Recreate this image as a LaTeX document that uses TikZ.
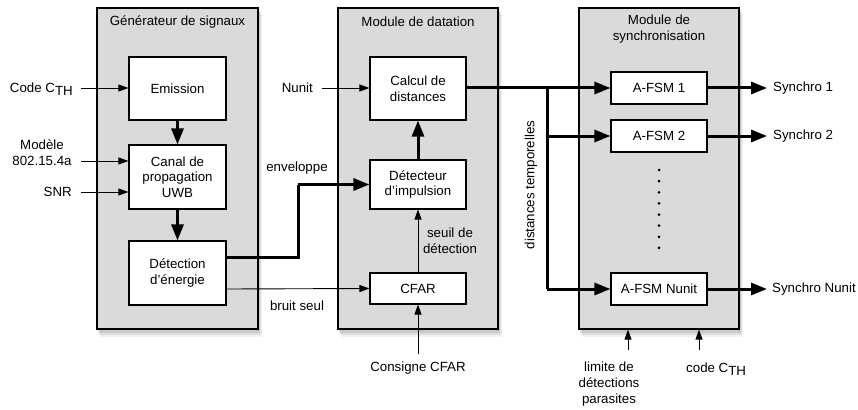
\documentclass[tikz,border=0pt]{standalone}
\usepackage{fontspec}
\setmainfont{Liberation Sans}
\usetikzlibrary{arrows.meta}
\definecolor{modfill}{RGB}{218,218,218}
\newcommand\subTH{\raisebox{-0.45ex}{TH}}
\begin{document}
\begin{tikzpicture}[x=1pt,y=-1pt,
 font=\fontsize{13.3}{15.7}\selectfont,
 module/.style={draw=black, line width=1.2pt, fill=modfill, rectangle, inner sep=0pt, minimum height=321pt},
 blk/.style={draw=black, line width=1.1pt, fill=white, rectangle, inner sep=0pt, align=center},
 lbl/.style={inner sep=0pt, align=center},
 thinarr/.style={line width=0.9pt, -{Triangle[length=10pt,width=7pt]}},
 thickarr/.style={line width=3pt, -{Triangle[length=16pt,width=12pt]}},
 thickline/.style={line width=3pt},
]
\useasboundingbox (0,0) rectangle (858,409);
% shadows
\foreach \xa/\xb in {97/258,338/498,579/739}{
  \fill[black,opacity=0.10] (\xa+1,10) rectangle (\xb+2,333);
  \fill[black,opacity=0.08] (\xa+2,12) rectangle (\xb+3,335);
  \fill[black,opacity=0.05] (\xa+3,14) rectangle (\xb+4,337);
}
% modules
\node[module, minimum width=161pt] (mod1) at (177.5,168.5) {};
\node[module, minimum width=160pt] (mod2) at (418,168.5) {};
\node[module, minimum width=160pt] (mod3) at (659,168.5) {};
\node[lbl] (t1) at (177.5,22) {Générateur de signaux};
\node[lbl] (t2) at (418,22) {Module de datation};
\node[lbl] (t3) at (659,29) {Module de\\synchronisation};
% blocks
\node[blk, minimum width=97pt, minimum height=63pt] (emis) at (177.5,88.5) {Emission};
\node[blk, minimum width=97pt, minimum height=64pt] (canal) at (177.5,177) {Canal de\\propagation\\UWB};
\node[blk, minimum width=97pt, minimum height=64pt] (det) at (177.5,273) {Détection\\d'énergie};
\node[blk, minimum width=96pt, minimum height=63pt] (calc) at (418,88.5) {Calcul de\\distances};
\node[blk, minimum width=96pt, minimum height=49pt] (detimp) at (418,184.5) {Détecteur\\d'impulsion};
\node[blk, minimum width=96pt, minimum height=31pt] (cfar) at (418,288.5) {CFAR};
\node[blk, minimum width=96pt, minimum height=32pt] (afsm1) at (659,88) {A-FSM 1};
\node[blk, minimum width=96pt, minimum height=32pt] (afsm2) at (659,136) {A-FSM 2};
\node[blk, minimum width=96pt, minimum height=32pt] (afsmN) at (659,289) {A-FSM Nunit};
% dots
\foreach \k in {0,...,7} \fill (659,170+\k*11.14) circle (1.5);
% input labels
\node[lbl, anchor=east] (code) at (73,89) {Code C\subTH};
\node[lbl] (mod) at (42,153) {Modèle\\802.15.4a};
\node[lbl, anchor=east] (snr) at (72,192) {SNR};
\node[lbl, anchor=east] (nunit) at (313,88) {Nunit};
\coordinate (codein) at (81,88);
\coordinate (modin) at (81,161);
\coordinate (snrin) at (81,192);
\coordinate (nunitin) at (322,88);
\draw[thinarr] (codein) -- (codein -| emis.west);
\draw[thinarr] (modin) -- (modin -| canal.west);
\draw[thinarr] (snrin) -- (snrin -| canal.west);
\draw[thinarr] (nunitin) -- (nunitin -| calc.west);
% internal flows
\draw[thickarr] (emis.south) -- (canal.north);
\draw[thickarr] (canal.south) -- (det.north);
\draw[thickarr] (detimp.north) -- (calc.south);
\draw[thinarr] (cfar.north) -- (detimp.south);
\node[lbl] (seuil) at (450,240.5) {seuil de\\détection};
\coordinate (envc) at (298,184.5);
\draw[thickline] ([yshift=16pt]det.east) -| (envc);
\draw[thickarr] (envc) -- (detimp.west);
\node[lbl] (env) at (297,168) {enveloppe};
\draw[thinarr] ([yshift=-16pt]det.east) -- (cfar.west);
\node[lbl] (bruit) at (297,306) {bruit seul};
\node[lbl] (cons) at (418,368) {Consigne CFAR};
\coordinate (consin) at (418,354);
\draw[thinarr] (consin) -- (cfar.south);
% bus
\coordinate (bus1) at (547,88);
\coordinate (bus2) at (547,136);
\coordinate (bus3) at (547,289);
\draw[thickarr] (calc.east |- afsm1.west) -- (afsm1.west);
\draw[thickline] (bus1) -- (bus3);
\draw[thickarr] (bus2) -- (afsm2.west);
\draw[thickarr] (bus3) -- (afsmN.west);
\node[lbl, rotate=90] (dt) at (531,185) {distances temporelles};
% outputs
\node[lbl, anchor=west] (s1) at (773,88) {Synchro 1};
\node[lbl, anchor=west] (s2) at (773,136) {Synchro 2};
\node[lbl, anchor=west] (sN) at (772,289) {Synchro Nunit};
\draw[thickarr] (afsm1.east) -- (767,88);
\draw[thickarr] (afsm2.east) -- (767,136);
\draw[thickarr] (afsmN.east) -- (767,289);
% bottom inputs
\node[lbl] (lim) at (609,384) {limite de\\détections\\parasites};
\node[lbl, anchor=west] (codeb) at (686,369) {code C\subTH};
\coordinate (limin) at (628,350);
\coordinate (codebin) at (699,350);
\draw[thinarr] (limin) -- (limin |- mod3.south);
\draw[thinarr] (codebin) -- (codebin |- mod3.south);
\end{tikzpicture}
\end{document}
